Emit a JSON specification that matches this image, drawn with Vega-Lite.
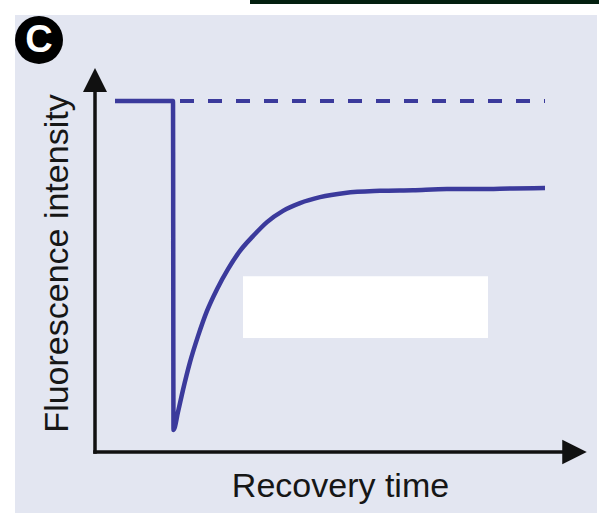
{
  "$schema": "https://vega.github.io/schema/vega-lite/v6.json",
  "autosize": "none",
  "width": 582,
  "height": 498,
  "padding": {"left": 15, "top": 15, "right": 2, "bottom": 10},
  "background": "#ffffff",
  "config": {
    "view": {"fill": "#e3e6f1", "stroke": null},
    "font": "Liberation Sans"
  },
  "datasets": {
    "curve": [
      {"i": 1, "t": 2.0, "f": 100},
      {"i": 2, "t": 7.8, "f": 100},
      {"i": 3, "t": 7.85, "f": 6.3},
      {"i": 4, "t": 8.3, "f": 11.4},
      {"i": 5, "t": 8.8, "f": 17.7},
      {"i": 6, "t": 9.5, "f": 25.6},
      {"i": 7, "t": 10.3, "f": 33.0},
      {"i": 8, "t": 11.2, "f": 40.2},
      {"i": 9, "t": 12.2, "f": 46.4},
      {"i": 10, "t": 13.3, "f": 52.1},
      {"i": 11, "t": 14.5, "f": 57.3},
      {"i": 12, "t": 15.8, "f": 61.5},
      {"i": 13, "t": 17.2, "f": 65.5},
      {"i": 14, "t": 18.8, "f": 68.7},
      {"i": 15, "t": 20.5, "f": 70.9},
      {"i": 16, "t": 22.5, "f": 72.6},
      {"i": 17, "t": 25.0, "f": 73.8},
      {"i": 18, "t": 28.5, "f": 74.4},
      {"i": 19, "t": 31.8, "f": 74.6},
      {"i": 20, "t": 35.2, "f": 74.9},
      {"i": 21, "t": 38.5, "f": 74.9},
      {"i": 22, "t": 41.8, "f": 75.1},
      {"i": 23, "t": 45.0, "f": 75.2}
    ],
    "prebleach": [{"t": 8.5, "f": 100, "t2": 45.0, "f2": 100}],
    "axes": [
      {"t": 0, "f": 0, "t2": 0, "f2": 104},
      {"t": 0, "f": 0, "t2": 47, "f2": 0}
    ],
    "arrowY": [{"t": 0, "f": 106.0}],
    "arrowX": [{"t": 47.95, "f": 0}],
    "box": [{"t": 14.8, "f": 50.1, "t2": 39.3, "f2": 32.5}],
    "topbar": [{"t": 15.5, "f": 128.8, "t2": 50.4, "f2": 127.6}],
    "badge": [{"t": -5.6, "f": 117.4, "label": "C"}]
  },
  "encoding": {
    "x": {
      "field": "t",
      "type": "quantitative",
      "scale": {"domain": [-8, 50.2], "nice": false, "zero": false},
      "title": "Recovery time",
      "axis": {
        "domain": false, "ticks": false, "labels": false, "grid": false,
        "titleFontSize": 34, "titleFontWeight": "normal", "titleColor": "#161616",
        "titleFont": "Liberation Sans",
        "titleX": 325, "titleY": -17, "titleAlign": "center", "titleBaseline": "alphabetic"
      }
    },
    "y": {
      "field": "f",
      "type": "quantitative",
      "scale": {"domain": [-17.38, 124.5], "nice": false, "zero": false},
      "title": "Fluorescence intensity",
      "axis": {
        "domain": false, "ticks": false, "labels": false, "grid": false,
        "titleFontSize": 34, "titleFontWeight": "normal", "titleColor": "#161616",
        "titleFont": "Liberation Sans", "titleAngle": -90,
        "titleX": 52, "titleY": 248, "titleAlign": "center", "titleBaseline": "alphabetic"
      }
    }
  },
  "layer": [
    {
      "data": {"name": "topbar"},
      "mark": {"type": "rect", "color": "#03200f"},
      "encoding": {"x2": {"field": "t2"}, "y2": {"field": "f2"}}
    },
    {
      "data": {"name": "box"},
      "mark": {"type": "rect", "color": "#ffffff"},
      "encoding": {"x2": {"field": "t2"}, "y2": {"field": "f2"}}
    },
    {
      "data": {"name": "axes"},
      "mark": {"type": "rule", "color": "#111111", "strokeWidth": 3.5, "strokeCap": "square"},
      "encoding": {"x2": {"field": "t2"}, "y2": {"field": "f2"}}
    },
    {
      "data": {"name": "arrowY"},
      "mark": {"type": "point", "shape": "M0,-1L-1,1L1,1Z", "filled": true, "color": "#111111", "size": 576, "opacity": 1}
    },
    {
      "data": {"name": "arrowX"},
      "mark": {"type": "point", "shape": "M1,0L-1,-1L-1,1Z", "filled": true, "color": "#111111", "size": 600, "opacity": 1}
    },
    {
      "data": {"name": "prebleach"},
      "mark": {"type": "rule", "color": "#3b3a9c", "strokeWidth": 4, "strokeDash": [14, 14]},
      "encoding": {"x2": {"field": "t2"}, "y2": {"field": "f2"}}
    },
    {
      "data": {"name": "curve"},
      "mark": {"type": "line", "color": "#3b3a9c", "strokeWidth": 4.5, "interpolate": "monotone"},
      "encoding": {"order": {"field": "i", "type": "quantitative"}}
    },
    {
      "data": {"name": "badge"},
      "mark": {"type": "point", "shape": "circle", "filled": true, "color": "#000000", "size": 2304, "opacity": 1}
    },
    {
      "data": {"name": "badge"},
      "mark": {"type": "text", "color": "#ffffff", "fontSize": 38, "fontWeight": "bold", "font": "Liberation Sans", "align": "center", "baseline": "middle", "dy": 1},
      "encoding": {"text": {"field": "label"}}
    }
  ]
}
